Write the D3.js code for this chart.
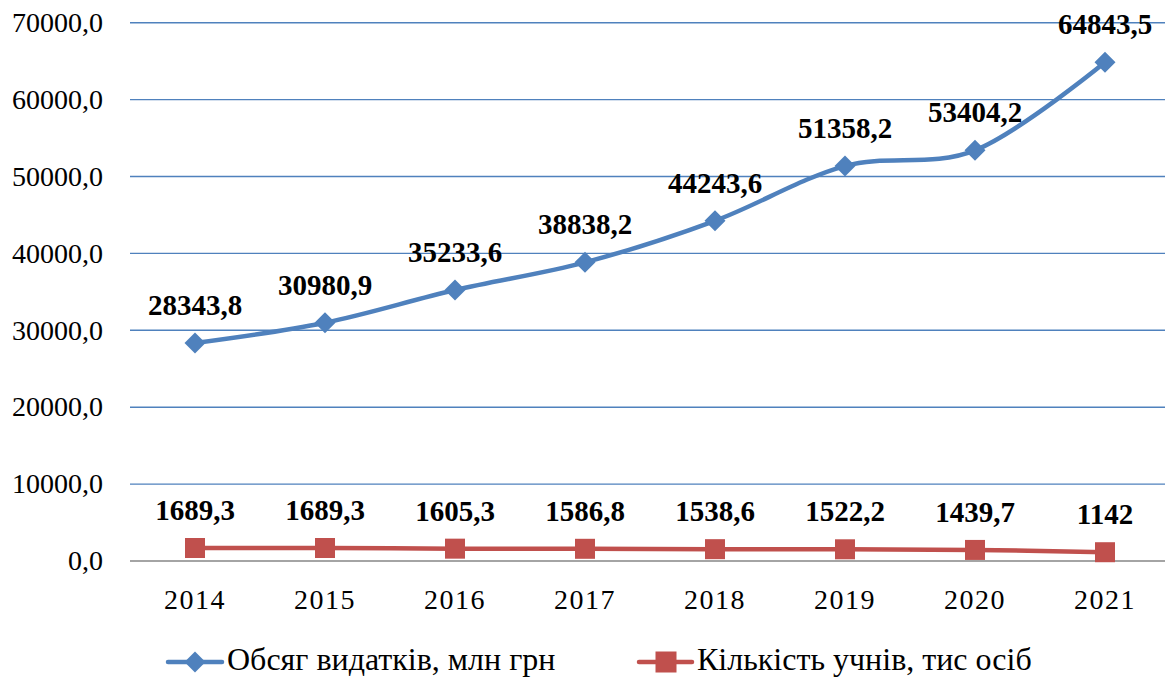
<!DOCTYPE html>
<html>
<head>
<meta charset="utf-8">
<script src="https://cdn.jsdelivr.net/npm/d3@7/dist/d3.min.js"></script>
<style>
  html, body { margin: 0; padding: 0; background: #ffffff; }
</style>
</head>
<body>
<svg id="chart" width="1165" height="677"></svg>
<script>
var years = ["2014", "2015", "2016", "2017", "2018", "2019", "2020", "2021"];
var spending = [28343.8, 30980.9, 35233.6, 38838.2, 44243.6, 51358.2, 53404.2, 64843.5];
var spendingLabels = ["28343,8", "30980,9", "35233,6", "38838,2", "44243,6", "51358,2", "53404,2", "64843,5"];
var pupils = [1689.3, 1689.3, 1605.3, 1586.8, 1538.6, 1522.2, 1439.7, 1142];
var pupilLabels = ["1689,3", "1689,3", "1605,3", "1586,8", "1538,6", "1522,2", "1439,7", "1142"];
var yTicks = [0, 10000, 20000, 30000, 40000, 50000, 60000, 70000];
var legendNames = ["Обсяг видатків, млн грн", "Кількість учнів, тис осіб"];

var BLUE = "#4F81BD";
var RED = "#C0504D";
var FONT = "Liberation Serif";

var plot = { left: 130, right: 1170, top: 22.7, bottom: 561 };

var svg = d3.select("#chart")
  .attr("font-family", FONT);

var x = d3.scaleBand()
  .domain(years)
  .range([plot.left, plot.right])
  .padding(0);

var y = d3.scaleLinear()
  .domain([0, 70000])
  .range([plot.bottom, plot.top]);

function cx(i) { return x(years[i]) + x.bandwidth() / 2; }

// gridlines
svg.append("g")
  .selectAll("line")
  .data(yTicks.filter(function(d) { return d > 0; }))
  .enter()
  .append("line")
  .attr("x1", plot.left)
  .attr("x2", plot.right)
  .attr("y1", function(d) { return y(d); })
  .attr("y2", function(d) { return y(d); })
  .attr("stroke", BLUE)
  .attr("stroke-width", 1.4);

// y tick labels
svg.append("g")
  .selectAll("text")
  .data(yTicks)
  .enter()
  .append("text")
  .attr("x", 103)
  .attr("y", function(d) { return y(d); })
  .attr("dy", "0.33em")
  .attr("text-anchor", "end")
  .attr("font-family", FONT)
  .attr("font-size", "28px")
  .attr("fill", "#000")
  .text(function(d) { return d3.format(".1f")(d).replace(".", ","); });

// zero axis
svg.append("line")
  .attr("x1", plot.left)
  .attr("x2", plot.right)
  .attr("y1", y(0))
  .attr("y2", y(0))
  .attr("stroke", "#868686")
  .attr("stroke-width", 1.4);

// x labels
svg.append("g")
  .selectAll("text")
  .data(years)
  .enter()
  .append("text")
  .attr("x", function(d) { return x(d) + x.bandwidth() / 2; })
  .attr("y", 609)
  .attr("text-anchor", "middle")
  .attr("font-family", FONT)
  .attr("font-size", "28px")
  .attr("letter-spacing", "1.5px")
  .attr("fill", "#000")
  .text(function(d) { return d; });

var line = d3.line()
  .x(function(d, i) { return cx(i); })
  .y(function(d) { return y(d); })
  .curve(d3.curveCardinal.tension(0));

function diamond(g, px, py, r, color) {
  g.append("path")
    .attr("d", "M" + px + "," + (py - r) + "L" + (px + r) + "," + py + "L" + px + "," + (py + r) + "L" + (px - r) + "," + py + "Z")
    .attr("fill", color);
}

function square(g, px, py, r, color) {
  g.append("rect")
    .attr("x", px - r)
    .attr("y", py - r)
    .attr("width", 2 * r)
    .attr("height", 2 * r)
    .attr("fill", color);
}

// spending series
svg.append("path")
  .datum(spending)
  .attr("d", line)
  .attr("fill", "none")
  .attr("stroke", BLUE)
  .attr("stroke-width", 4.5)
  .attr("stroke-linecap", "round");

var blueMarks = svg.append("g");
spending.forEach(function(v, i) { diamond(blueMarks, cx(i), y(v), 10.5, BLUE); });

// pupils series
svg.append("path")
  .datum(pupils)
  .attr("d", line)
  .attr("fill", "none")
  .attr("stroke", RED)
  .attr("stroke-width", 4.5)
  .attr("stroke-linecap", "round");

var redMarks = svg.append("g");
pupils.forEach(function(v, i) { square(redMarks, cx(i), y(v), 10, RED); });

// data labels
function addLabels(values, labels) {
  svg.append("g")
    .selectAll("text")
    .data(values)
    .enter()
    .append("text")
    .attr("x", function(d, i) { return cx(i); })
    .attr("y", function(d) { return y(d) - 28; })
    .attr("text-anchor", "middle")
    .attr("font-family", FONT)
    .attr("font-size", "29px")
    .attr("font-weight", "bold")
    .attr("fill", "#000")
    .text(function(d, i) { return labels[i]; });
}
addLabels(spending, spendingLabels);
addLabels(pupils, pupilLabels);

// legend
var legend = svg.append("g");
var legendY = 662;

legend.append("line")
  .attr("x1", 168).attr("x2", 222)
  .attr("y1", legendY).attr("y2", legendY)
  .attr("stroke", BLUE).attr("stroke-width", 4.5)
  .attr("stroke-linecap", "round");
diamond(legend, 195, legendY, 10.5, BLUE);
legend.append("text")
  .attr("x", 227).attr("y", 670)
  .attr("font-family", FONT)
  .attr("font-size", "32px")
  .attr("fill", "#000")
  .text(legendNames[0]);

legend.append("line")
  .attr("x1", 639).attr("x2", 692)
  .attr("y1", legendY).attr("y2", legendY)
  .attr("stroke", RED).attr("stroke-width", 4.5)
  .attr("stroke-linecap", "round");
square(legend, 666, legendY, 10.5, RED);
legend.append("text")
  .attr("x", 697).attr("y", 670)
  .attr("font-family", FONT)
  .attr("font-size", "32px")
  .attr("fill", "#000")
  .text(legendNames[1]);
</script>
</body>
</html>
